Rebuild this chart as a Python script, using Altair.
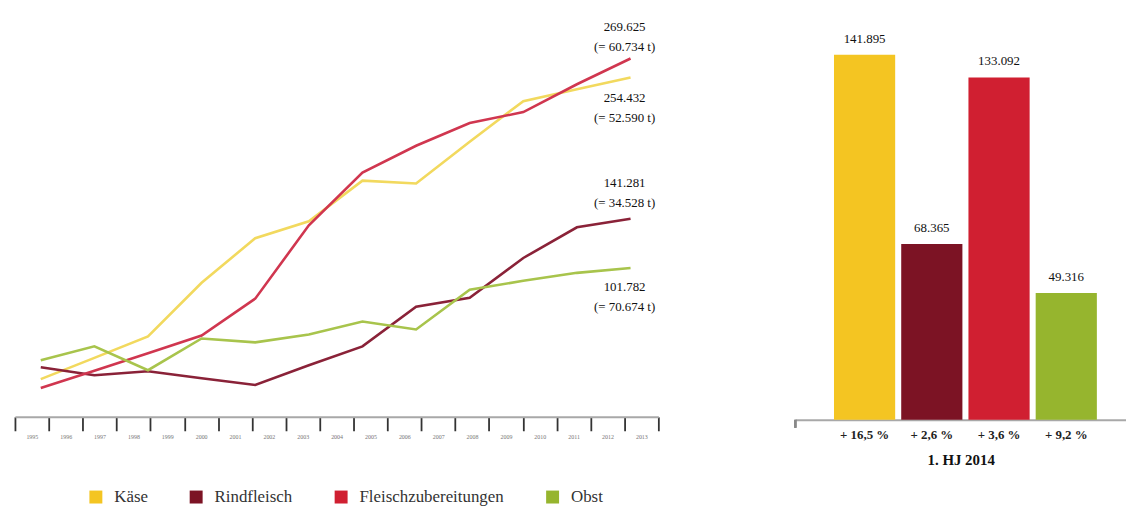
import altair as alt
import pandas as pd

# ---------------- data ----------------
series = ["Käse", "Rindfleisch", "Fleischzubereitungen", "Obst"]
palette = ["#f4c522", "#7c1324", "#d01f31", "#96b52e"]
line_palette = ["#f2d95e", "#8a2238", "#d0364f", "#a8c44c"]

points = list(range(12))
kaese = [12.7, 29.8, 46.9, 89.9, 125.7, 139.2, 171.8, 169.5, 202.9, 235.5, 245.0, 254.432]
rind = [22.3, 15.9, 19.1, 13.5, 8.0, 23.9, 39.0, 70.8, 78.0, 109.8, 134.4, 141.281]
fleisch = [5.6, 19.5, 33.4, 47.7, 77.2, 136.0, 178.2, 199.7, 218.0, 226.7, 249.0, 269.625]
obst = [27.8, 39.0, 19.9, 45.3, 42.2, 48.5, 58.9, 52.5, 84.3, 91.5, 97.9, 101.782]

years = list(range(1995, 2014))

end_values = [254.432, 141.281, 269.625, 101.782]
end_tons = ["(= 52.590 t)", "(= 34.528 t)", "(= 60.734 t)", "(= 70.674 t)"]

bar_values = [141.895, 68.365, 133.092, 49.316]
bar_changes = ["+ 16,5 %", "+ 2,6 %", "+ 3,6 %", "+ 9,2 %"]
bar_period = "1. HJ 2014"

# ---------------- tables ----------------
rows = []
for name, vals in zip(series, [kaese, rind, fleisch, obst]):
    for p, v in zip(points, vals):
        rows.append({"sorte": name, "punkt": p, "wert": v})
df_lines = pd.DataFrame(rows)

df_end = pd.DataFrame({
    "sorte": series,
    "punkt": [points[-1]] * 4,
    "wert": end_values,
    "label": [f"{v:.3f}\n{t}" for v, t in zip(end_values, end_tons)],
})

df_years = pd.DataFrame({"jahr": years})

df_bars = pd.DataFrame({"sorte": series, "wert": bar_values, "change": bar_changes})

SERIF = "Liberation Serif"
W, H = 648, 408
BW, BH = 333, 411

color_scale = alt.Scale(domain=series, range=palette)
stroke_scale = alt.Scale(domain=series, range=line_palette)
legend = alt.Legend(
    title=None, orient="none", legendX=73, legendY=480, direction="horizontal",
    symbolType="square", symbolSize=170, symbolStrokeWidth=0, symbolOpacity=1,
    labelFont=SERIF, labelFontSize=17, labelColor="#333", labelOffset=10,
    columnPadding=40,
)

x_line = alt.Scale(domain=[-26 / 54, (W - 26) / 54])
y_line = alt.Scale(domain=[-17.5, 307.1])

lines = alt.Chart(df_lines).mark_line(strokeWidth=2.6).encode(
    x=alt.X("punkt:Q", scale=x_line, axis=None),
    y=alt.Y("wert:Q", scale=y_line, axis=None),
    stroke=alt.Stroke("sorte:N", scale=stroke_scale, legend=None),
    order="punkt:Q",
)

# invisible carrier for the shared colour legend
legend_carrier = alt.Chart(df_end).mark_square(opacity=0).encode(
    x=alt.X("punkt:Q", scale=x_line, axis=None),
    y=alt.Y("wert:Q", scale=y_line, axis=None),
    color=alt.Color("sorte:N", scale=color_scale, legend=legend),
)

axis_layer = alt.Chart(df_years).mark_point(opacity=0).encode(
    x=alt.X(
        "jahr:Q",
        scale=alt.Scale(domain=[1994.5, 2013.5], nice=False, zero=False),
        axis=alt.Axis(
            title=None, grid=False,
            values=[y - 0.5 for y in years] + [years[-1] + 0.5],
            labelExpr="datum.value < 2013 ? '' + (datum.value + 0.5) : ''",
            labelOffset=17, labelOverlap=False, labelFlush=False,
            labelFont=SERIF, labelFontSize=6, labelColor="#777", labelPadding=3,
            domainColor="#a8a8a8", domainWidth=2,
            tickColor="#333", tickWidth=1.8, tickSize=14,
        ),
    ),
    y=alt.value(H / 2),
)

label_style = {
    "Käse": ("top", 15),
    "Rindfleisch": ("bottom", -29),
    "Fleischzubereitungen": ("bottom", -25),
    "Obst": ("top", 13),
}
text_layers = []
for name in series:
    base, dy = label_style[name]
    text_layers.append(
        alt.Chart(df_end[df_end["sorte"] == name]).mark_text(
            font=SERIF, fontSize=13, color="#111", align="center",
            baseline=base, dx=-6, dy=dy, lineBreak="\n", lineHeight=20,
        ).encode(
            x=alt.X("punkt:Q", scale=x_line, axis=None),
            y=alt.Y("wert:Q", scale=y_line, axis=None),
            text="label:N",
        )
    )

left = alt.layer(axis_layer, legend_carrier, lines, *text_layers).resolve_scale(
    x="independent"
).properties(width=W, height=H)

# ---------------- bar chart ----------------
x_bar = alt.X(
    "change:N", sort=bar_changes,
    scale=alt.Scale(paddingInner=0.09, paddingOuter=0.504, align=0.57),
    axis=alt.Axis(
        title=bar_period, labelAngle=0, ticks=False,
        labelFont=SERIF, labelFontSize=13, labelFontWeight="bold", labelColor="#222",
        labelPadding=9,
        titleFont=SERIF, titleFontSize=15, titleFontWeight="bold", titleColor="#111",
        titlePadding=11, domainColor="#a8a8a8", domainWidth=2,
    ),
)
y_bar = alt.Y("wert:Q", scale=alt.Scale(domain=[0, 158.6]), axis=None)

bars = alt.Chart(df_bars).mark_bar().encode(
    x=x_bar, y=y_bar,
    color=alt.Color("sorte:N", scale=color_scale, legend=legend),
)
bar_text = alt.Chart(df_bars).mark_text(
    font=SERIF, fontSize=13, color="#111", baseline="bottom", dy=-9
).encode(
    x=alt.X("change:N", sort=bar_changes), y=y_bar,
    text=alt.Text("wert:Q", format=".3f"),
)
bracket = alt.Chart(df_bars).mark_rule(color="#888", strokeWidth=2).encode(
    x=alt.value(0), y=alt.value(BH), y2=alt.value(BH + 8)
)

right = alt.layer(bars, bar_text, bracket).properties(width=BW, height=BH)

chart = alt.hconcat(left, right, spacing=138, bounds="flush").properties(
    padding={"left": 6, "top": 2, "right": 0, "bottom": 0},
    background="white",
).configure_view(stroke=None).configure_legend(
    labelFont=SERIF, labelFontSize=17, labelColor="#333"
)

chart.save("out.html", embed_options={"renderer": "svg", "actions": False})
